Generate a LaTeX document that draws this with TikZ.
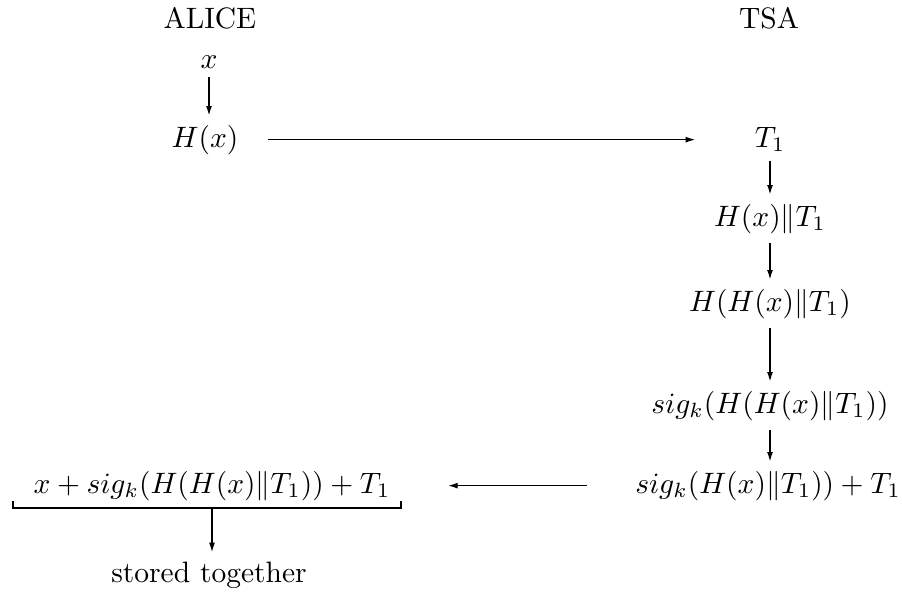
\documentclass[tikz,border=0pt]{standalone}
\usetikzlibrary{arrows.meta}
\begin{document}
\begin{tikzpicture}[x=0.339pt,y=-0.339pt,
  lbl/.style={inner sep=3pt, anchor=base},
  arr/.style={-{Latex[length=3.2pt,width=2pt]}}]
\useasboundingbox (0,0) rectangle (902,599);
% headings
\node[lbl] (alice) at (210,28) {ALICE};
\node[lbl] (tsa) at (769,28) {TSA};
% Alice column
\node[lbl] (x) at (209,68) {$x$};
\node[lbl] (hx) at (205,147) {$H(x)$};
% TSA column
\node[lbl] (t1) at (770,147) {$T_1$};
\node[lbl] (hxt) at (770,226) {$H(x)\|T_1$};
\node[lbl] (hhxt) at (770,311) {$H(H(x)\|T_1)$};
\node[lbl] (sighh) at (770,413) {$sig_k(H(H(x)\|T_1))$};
\node[lbl] (sigt) at (768,493) {$sig_k(H(x)\|T_1)) + T_1$};
% bottom left
\node[anchor=base, inner xsep=3.4pt, inner ysep=2.4pt] (bt) at (212,493) {$x + sig_k(H(H(x)\|T_1)) + T_1$};
\node[lbl] (st) at (209,582) {stored together};
% bracket
\draw ([xshift=-3.4pt]bt.south west) ++(0,-7) -- ([xshift=-3.4pt]bt.south west) -- (bt.south east) -- ++(0,-7);
% connectors
\draw[arr] (x.south) -- (x.south |- hx.north);
\draw[arr, shorten <=7pt, shorten >=17pt] (hx.east) -- (hx.east -| t1.west);
\draw[arr] (t1.south) -- (t1.south |- hxt.north);
\draw[arr] (hxt.south) -- (hxt.south |- hhxt.north);
\draw[arr] (hhxt.south) -- (hhxt.south |- sighh.north);
\draw[arr] (sighh.south) -- (sighh.south |- sigt.north);
\draw[arr, shorten <=13pt, shorten >=16pt] (sigt.west) -- (sigt.west -| bt.east);
\draw[arr] (bt.south) -- (bt.south |- st.north);
\end{tikzpicture}
\end{document}
